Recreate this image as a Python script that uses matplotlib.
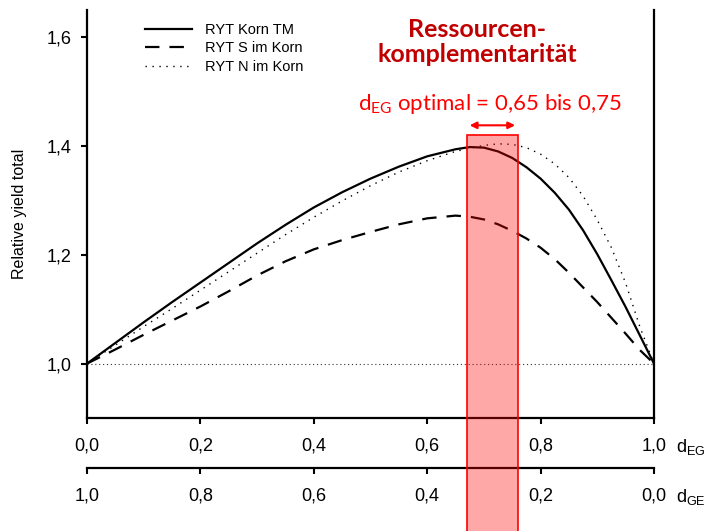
import matplotlib.pyplot as plt
from matplotlib.patches import Rectangle, FancyArrowPatch

# d_EG values and relative yield totals
d_eg = [0.0, 0.05, 0.1, 0.15, 0.2, 0.25, 0.3, 0.35, 0.4, 0.45, 0.5, 0.55, 0.6, 0.65, 0.675,
        0.7, 0.725, 0.75, 0.775, 0.8, 0.825, 0.85, 0.875, 0.9, 0.925, 0.95, 0.975, 1.0]
ryt_tm = [1.000, 1.038, 1.076, 1.113, 1.149, 1.185, 1.221, 1.255, 1.287, 1.315, 1.340,
          1.362, 1.381, 1.394, 1.398, 1.397, 1.390, 1.378, 1.361, 1.340, 1.314, 1.283,
          1.245, 1.201, 1.153, 1.104, 1.052, 1.000]
ryt_s = [1.000, 1.026, 1.053, 1.079, 1.105, 1.133, 1.162, 1.188, 1.210, 1.227, 1.242,
         1.256, 1.267, 1.272, 1.270, 1.265, 1.256, 1.244, 1.230, 1.213, 1.192, 1.167,
         1.140, 1.113, 1.084, 1.055, 1.025, 1.000]
ryt_n = [1.000, 1.034, 1.068, 1.101, 1.135, 1.169, 1.203, 1.237, 1.269, 1.299, 1.327,
         1.352, 1.373, 1.390, 1.396, 1.401, 1.404, 1.403, 1.397, 1.385, 1.367, 1.342,
         1.308, 1.264, 1.213, 1.148, 1.068, 1.000]
labels = ['RYT Korn TM', 'RYT S im Korn', 'RYT N im Korn']

opt_lo, opt_hi = 0.67, 0.76
xticks = [0.0, 0.2, 0.4, 0.6, 0.8, 1.0]
yticks = [1.0, 1.2, 1.4, 1.6]

plt.rcParams['font.family'] = ['Liberation Sans', 'DejaVu Sans']

fig = plt.figure(figsize=(7.08, 5.31), dpi=100)
ax = fig.add_axes([0.1229, 0.2128, 0.8008, 0.7684])

ax.plot(d_eg, ryt_tm, color='black', lw=1.6, label=labels[0])
ax.plot(d_eg, ryt_s, color='black', lw=1.6, dashes=(6.5, 4.5), label=labels[1])
ax.plot(d_eg, ryt_n, color='black', lw=1.0, linestyle=(0, (1, 4)), label=labels[2])
ax.axhline(1.0, color='#333333', lw=0.8, linestyle=(0, (1, 2.5)))

ax.set_xlim(0, 1)
ax.set_ylim(0.9, 1.65)
ax.set_xticks(xticks)
ax.set_xticklabels([f'{v:.1f}'.replace('.', ',') for v in xticks])
ax.set_yticks(yticks)
ax.set_yticklabels([f'{v:.1f}'.replace('.', ',') for v in yticks])
ax.tick_params(labelsize=13, width=1.5, length=4, direction='out')
ax.tick_params(axis='x', pad=10)
ax.tick_params(axis='y', pad=7)
ax.spines['top'].set_visible(False)
for s in ['left', 'right', 'bottom']:
    ax.spines[s].set_linewidth(1.6)
ax.set_ylabel('Relative yield total', fontsize=11.5, labelpad=14)

leg = ax.legend(loc='upper left', bbox_to_anchor=(0.08, 1.0), frameon=False, fontsize=10.5,
                handlelength=3.2, handletextpad=0.9, labelspacing=0.3)

# second axis for d_GE
ax2 = ax.twiny()
ax2.set_xlim(1, 0)
ax2.xaxis.set_ticks_position('bottom')
ax2.xaxis.set_label_position('bottom')
for s in ['top', 'left', 'right']:
    ax2.spines[s].set_visible(False)
ax2.spines['bottom'].set_position(('outward', 36))
ax2.spines['bottom'].set_linewidth(1.6)
ax2.set_xticks(xticks)
ax2.set_xticklabels([f'{v:.1f}'.replace('.', ',') for v in xticks])
ax2.tick_params(labelsize=13, width=1.5, length=4, direction='out', pad=10)

fig.text(0.955, 1 - 447 / 531, r'$\mathregular{d_{EG}}$', fontsize=13, va='center')
fig.text(0.955, 1 - 497 / 531, r'$\mathregular{d_{GE}}$', fontsize=13, va='center')

# optimal range
rect = Rectangle((opt_lo, 0.6), opt_hi - opt_lo, 0.82, transform=ax.transData,
                 facecolor=(1, 0, 0, 0.34), edgecolor='red', lw=1.2, clip_on=False)
fig.add_artist(rect)
arrow = FancyArrowPatch((opt_lo, 1.438), (opt_hi, 1.438), transform=ax.transData,
                        arrowstyle='<|-|>', mutation_scale=10, color='red', lw=1.5)
fig.add_artist(arrow)

fig.text(0.674, 1 - 42 / 531, 'Ressourcen-\nkomplementarität', ha='center', va='center',
         fontsize=18, fontweight='bold', color='#C00000', family=['Lato', 'DejaVu Sans'],
         linespacing=1.15)
fig.text(0.692, 1 - 104 / 531, r'$\mathregular{d_{EG}}$ optimal = 0,65 bis 0,75',
         ha='center', va='center', fontsize=16, color='red', family=['Lato', 'DejaVu Sans'])

fig.savefig('out.png', dpi=100)
